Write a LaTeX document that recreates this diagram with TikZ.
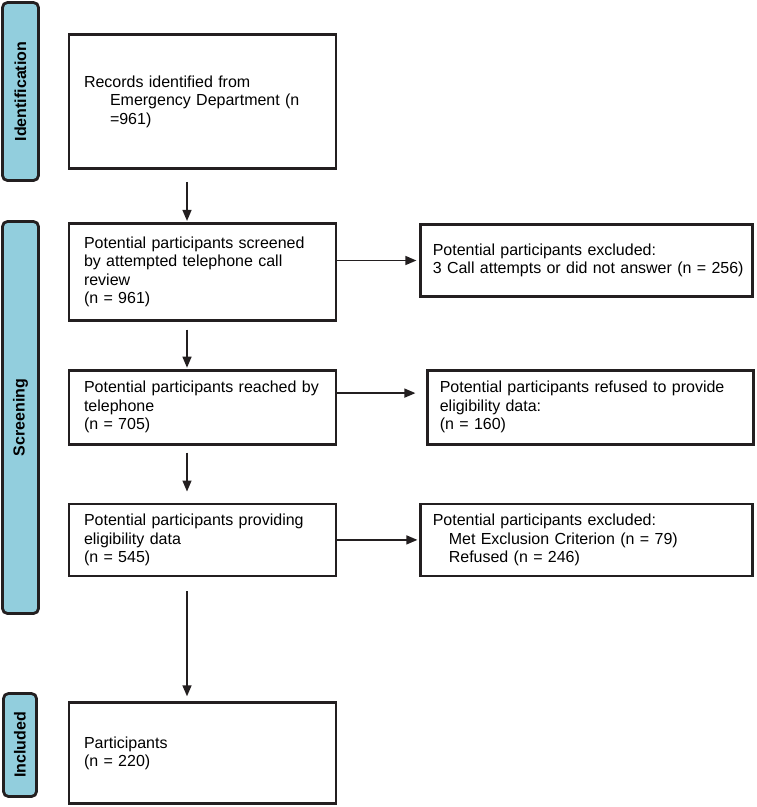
\documentclass[tikz,border=0pt]{standalone}
\usepackage{fontspec}
\setmainfont{Liberation Sans}
\usepackage{xcolor}
\usetikzlibrary{positioning,arrows.meta}

\definecolor{phaseblue}{RGB}{146,206,221}
\definecolor{linegray}{RGB}{35,31,32}

\begin{document}
\begin{tikzpicture}[
        x=1pt, y=1pt,
        node distance=50pt,
        box/.style={rectangle, draw=linegray, line width=2.8pt, text width=237pt, inner xsep=15pt, align=left, font=\fontsize{16}{18.5}\selectfont},
        excl/.style={box, text width=308pt, inner xsep=12pt},
        phase/.style={rectangle, rounded corners=5pt, draw=linegray, line width=2.8pt, fill=phaseblue, rotate=90, minimum height=36pt, font=\fontsize{16}{18}\selectfont\bfseries},
        arrow/.style={-{Triangle[length=11pt,width=9pt]}, line width=1.4pt, draw=linegray}
    ]
    \useasboundingbox (0,0) rectangle (757,-807);

    % phases on the left
    \node[phase, minimum width=178pt] (ident) at (20.5,-91.5) {Identification};
    \node[phase, minimum width=392pt] (screening) at (20.5,-417.5) {Screening};
    \node[phase, minimum width=103pt, minimum height=33pt] (incl) at (20,-745) {Included};

    % main column
    \node[box, minimum height=134pt] (records) at (202.5,-101.5) {Records identified from\\\hspace*{26pt}Emergency Department (n\\\hspace*{26pt}=961)};
    \node[box, minimum height=97pt, below=52pt of records] (screened) {Potential participants screened\\by attempted telephone call\\review\\(n = 961)};
    \node[box, minimum height=74pt, below=47pt of screened] (reached) {Potential participants reached by\\telephone\\(n = 705)};
    \node[box, minimum height=72pt, below=57pt of reached] (providing) {Potential participants providing\\eligibility data\\(n = 545)};
    \node[box, minimum height=101pt, below=124pt of providing] (participants) {Participants\\(n = 220)};

    % exclusions
    \node[excl, minimum height=72pt, right=82pt of screened, yshift=11.3pt] (callexcl) {Potential participants excluded:\\\mbox{3 Call attempts or did not answer (n = 256)}};
    \node[excl, text width=302pt, minimum height=74pt, right=89pt of reached] (refused) {Potential participants refused to provide\\eligibility data:\\(n = 160)};
    \node[excl, minimum height=72pt, right=82pt of providing] (metexcl) {Potential participants excluded:\\\hspace*{16pt}Met Exclusion Criterion (n = 79)\\\hspace*{16pt}Refused (n = 246)};

    \draw[arrow, shorten <=12pt, shorten >=1pt] ([xshift=-15.5pt]records.south) -- ([xshift=-15.5pt]records.south |- screened.north);
    \draw[arrow, shorten <=8pt, shorten >=1pt] ([xshift=-15.5pt]screened.south) -- ([xshift=-15.5pt]screened.south |- reached.north);
    \draw[arrow, shorten <=7pt, shorten >=11pt] ([xshift=-15.5pt]reached.south) -- ([xshift=-15.5pt]reached.south |- providing.north);
    \draw[arrow, shorten <=14pt, shorten >=5pt] ([xshift=-15.5pt]providing.south) -- ([xshift=-15.5pt]providing.south |- participants.north);

    \draw[arrow, shorten >=3pt] (screened.east |- callexcl.west) -- (callexcl.west);
    \draw[arrow, shorten >=11pt] ([yshift=14pt]reached.east) -- ([yshift=14pt]reached.east -| refused.west);
    \draw[arrow, shorten >=2pt] (providing.east |- metexcl.west) -- (metexcl.west);

\end{tikzpicture}
\end{document}
